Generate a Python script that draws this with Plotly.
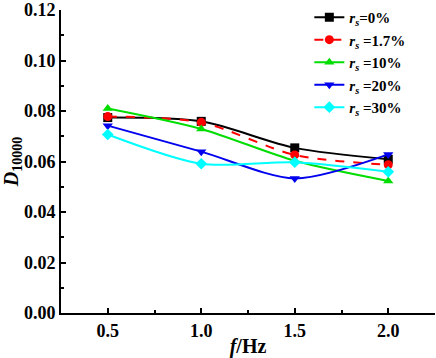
import plotly.graph_objects as go

freq = [0.5, 1.0, 1.5, 2.0]
labels = ["<b><i>r</i><sub><i>s</i></sub>=0%</b>", "<b><i>r</i><sub><i>s</i></sub> =1.7%</b>",
          "<b><i>r</i><sub><i>s</i></sub> =10%</b>", "<b><i>r</i><sub><i>s</i></sub> =20%</b>",
          "<b><i>r</i><sub><i>s</i></sub> =30%</b>"]
d0 = [0.0774, 0.0759, 0.0654, 0.0609]
d17 = [0.0778, 0.0755, 0.0626, 0.0587]
d10 = [0.0810, 0.0729, 0.0603, 0.0523]
d20 = [0.0742, 0.0639, 0.0533, 0.0628]
d30 = [0.0707, 0.0591, 0.0597, 0.0559]
yticks = [0, 0.02, 0.04, 0.06, 0.08, 0.10, 0.12]

series = [d0, d17, d10, d20, d30]
colors = ["#000000", "#ff0000", "#00dd00", "#0000ee", "#00ffff"]
symbols = ["square", "circle", "triangle-up", "triangle-down", "diamond"]
dashes = ["solid", "dash", "solid", "solid", "solid"]

fig = go.Figure()
for lab, ys, c, s, d in zip(labels, series, colors, symbols, dashes):
    fig.add_trace(go.Scatter(
        x=freq, y=ys, name=lab, mode="lines+markers",
        line=dict(color=c, width=2, dash=d, shape="spline", smoothing=0.8),
        marker=dict(symbol=s, size=9, color=c),
    ))

fig.update_layout(
    width=436, height=358,
    margin=dict(l=61, r=1, t=7, b=45),
    paper_bgcolor="white", plot_bgcolor="white",
    font=dict(family="Liberation Serif", size=18, color="black"),
    showlegend=True,
    legend=dict(x=0.664, y=1.03, xanchor="left", yanchor="top",
                bgcolor="rgba(0,0,0,0)", borderwidth=0,
                font=dict(family="Liberation Serif", size=15, color="black"),
                itemwidth=30, tracegroupgap=0),
)
fig.update_xaxes(
    range=[0.25, 2.25], tickvals=freq, ticktext=["<b>%.1f</b>" % v for v in freq],
    showline=True, linecolor="black", linewidth=2, mirror=False,
    ticks="inside", ticklen=5, tickwidth=2, tickcolor="black",
    minor=dict(tickvals=[0.75, 1.25, 1.75], ticks="inside", ticklen=3, tickwidth=1.5, tickcolor="black"),
    showgrid=False, zeroline=False, ticklabeloverflow="allow", automargin=False,
    title=dict(text="<b><i>f</i>/Hz</b>", standoff=0, font=dict(size=20)),
)
fig.update_yaxes(
    range=[0, 0.12], tickvals=yticks,
    ticktext=["<b>%.2f</b>" % v for v in yticks],
    showline=True, linecolor="black", linewidth=2, mirror=False,
    ticks="inside", ticklen=5, tickwidth=2, tickcolor="black",
    minor=dict(dtick=0.01, ticks="inside", ticklen=3, tickwidth=1.5, tickcolor="black"),
    showgrid=False, zeroline=False, ticklabeloverflow="allow", automargin=False,
    title=dict(text="<b><i>D</i><sub>10000</sub></b>", standoff=5, font=dict(size=20)),
)
fig.write_html("out.html", config={"displayModeBar": False},
               post_script="document.body.style.margin='0';")
